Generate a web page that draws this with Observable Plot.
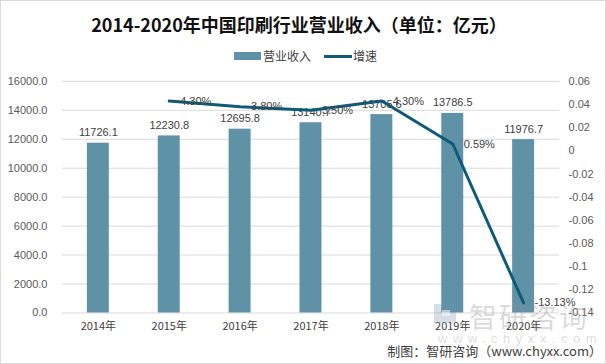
<!DOCTYPE html>
<html>
<head>
<meta charset="utf-8">
<script src="https://cdn.jsdelivr.net/npm/d3@7"></script>
<script src="https://cdn.jsdelivr.net/npm/@observablehq/plot@0.6"></script>
<style>
  body { margin: 0; background: #fff; }
  #wrap { position: relative; width: 606px; height: 364px; box-sizing: border-box; border: 1px solid #d9d9d9; overflow: hidden; font-family: "Liberation Sans", "Noto Sans CJK SC", sans-serif; }
  #chart { position: absolute; left: -1px; top: -1px; }
  .abs { position: absolute; white-space: nowrap; }
  #title { left: 0; top: 10px; width: 596px; text-align: center; font: bold 18px/26px "Noto Sans CJK SC", sans-serif; color: #111; }
  #legend { top: 46px; left: 233px; font: 12px/18px "Noto Sans CJK SC", sans-serif; color: #404040; display: flex; align-items: center; }
  .key-bar { display: inline-block; width: 27px; height: 8px; background: #5f91a7; margin-right: 2px; }
  .key-line { display: inline-block; width: 28px; height: 3px; background: #0e5b78; margin-left: 13px; margin-right: 1px; }
  #caption { right: 3px; top: 340px; font: 13px/20px "Noto Sans CJK SC", sans-serif; color: #404040; }
  #wm1 { left: 468px; top: 297px; font: 28px/36px "Noto Sans CJK SC", sans-serif; color: rgba(150,150,150,0.35); letter-spacing: 2px; }
  #wm2 { left: 437px; top: 330px; font: 13px/16px "Liberation Sans", sans-serif; color: rgba(150,150,150,0.35); letter-spacing: 5.5px; }
  #logo { left: 433px; top: 303px; width: 22px; height: 19px; background: rgba(120,150,175,0.3); }
  #logo-cut { left: 441px; top: 309px; width: 8px; height: 6px; background: rgba(255,255,255,0.5); }
</style>
</head>
<body>
<div id="wrap">
  <div id="chart"></div>
  <div id="title" class="abs">2014-2020年中国印刷行业营业收入（单位：亿元）</div>
  <div id="legend" class="abs"><span class="key-bar"></span><span id="lg1">营业收入</span><span class="key-line"></span><span id="lg2">增速</span></div>
  <div id="logo" class="abs"></div>
  <div id="logo-cut" class="abs"></div>
  <div id="wm1" class="abs">智研咨询</div>
  <div id="wm2" class="abs">www.chyxx.com</div>
  <div id="caption" class="abs">制图：智研咨询（www.chyxx.com）</div>
</div>
<script>
const years = ["2014年", "2015年", "2016年", "2017年", "2018年", "2019年", "2020年"];
const revenue = [11726.1, 12230.8, 12695.8, 13140.7, 13705.6, 13786.5, 11976.7];
const revenueLabels = ["11726.1", "12230.8", "12695.8", "13140.7", "13705.6", "13786.5", "11976.7"];
const rateYears = ["2015年", "2016年", "2017年", "2018年", "2019年", "2020年"];
const rates = [0.043, 0.038, 0.035, 0.043, 0.0059, -0.1313];
const rateLabels = ["4.30%", "3.80%", "3.50%", "4.30%", "0.59%", "-13.13%"];
const leftTicks = [0, 2000, 4000, 6000, 8000, 10000, 12000, 14000, 16000];
const rightTicks = [0.06, 0.04, 0.02, 0, -0.02, -0.04, -0.06, -0.08, -0.1, -0.12, -0.14];
const rightTickLabels = ["0.06", "0.04", "0.02", "0", "-0.02", "-0.04", "-0.06", "-0.08", "-0.1", "-0.12", "-0.14"];

// secondary axis domain mapped onto the primary y scale
const rMin = -0.14, rMax = 0.06, yMax = 16000;
const toY = r => (r - rMin) / (rMax - rMin) * yMax;

const bars = years.map((y, i) => ({year: y, value: revenue[i], label: revenueLabels[i]}));
const line = rateYears.map((y, i) => ({year: y, rate: rates[i], ry: toY(rates[i]), label: rateLabels[i]}));
const rightPos = rightTicks.map(toY);
const rightFmt = v => { const i = rightPos.findIndex(p => Math.abs(p - v) < 1e-6); return i >= 0 ? rightTickLabels[i] : ""; };

const barColor = "#5f91a7", lineColor = "#0e5b78", textColor = "#404040";

const chart = Plot.plot({
  width: 606,
  height: 364,
  marginTop: 81,
  marginBottom: 51,
  marginLeft: 62,
  marginRight: 46,
  style: {fontFamily: "'Liberation Sans', 'Noto Sans CJK SC', sans-serif", fontSize: "11px", color: textColor, background: "transparent"},
  x: {domain: years, paddingInner: 0.684, paddingOuter: 0.342},
  y: {domain: [0, yMax]},
  marks: [
    Plot.ruleY(leftTicks, {stroke: "#d9d9d9", strokeWidth: 1}),
    Plot.axisY(leftTicks, {anchor: "left", tickSize: 0, tickPadding: 15, tickFormat: d => d.toFixed(1), label: null, fill: "#595959"}),
    Plot.axisY(rightPos, {anchor: "right", tickSize: 0, tickPadding: 9, tickFormat: rightFmt, label: null, fill: "#595959"}),
    Plot.axisX({tickSize: 0, tickPadding: 9, label: null, fill: "#404040", fontFamily: "'Noto Sans CJK SC', sans-serif"}),
    Plot.barY(bars, {x: "year", y: "value", fill: barColor}),
    Plot.text(bars, {x: "year", y: "value", text: "label", dy: -7, lineAnchor: "bottom", fill: textColor, fontSize: 11}),
    Plot.line(line, {x: "year", y: "ry", stroke: lineColor, strokeWidth: 3}),
    Plot.text(line, {x: "year", y: "ry", text: "label", dx: 11, textAnchor: "start", fill: textColor, fontSize: 11})
  ]
});
document.getElementById("chart").appendChild(chart);
</script>
</body>
</html>
